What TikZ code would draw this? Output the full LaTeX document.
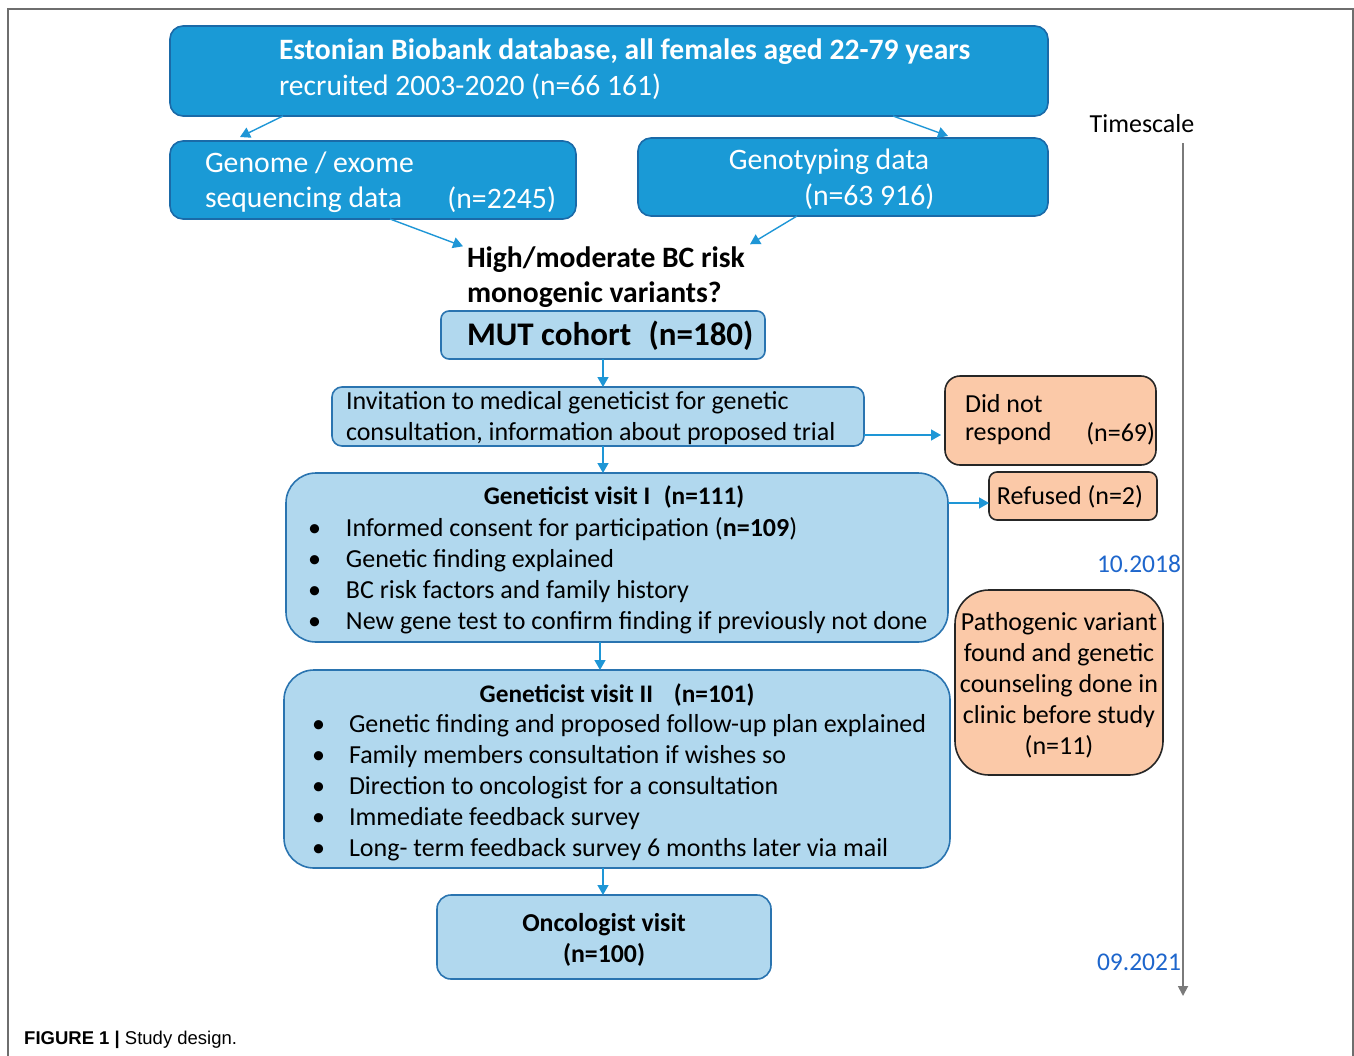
\documentclass[tikz,border=0pt]{standalone}
\usepackage{fontspec}
\setmainfont{Carlito}
\newfontfamily\capfont{Liberation Sans}
\usetikzlibrary{arrows.meta,calc}
\definecolor{topblue}{HTML}{1A9AD6}
\definecolor{darkedge}{HTML}{1A6AA8}
\definecolor{lightfill}{HTML}{B1D8EE}
\definecolor{lightedge}{HTML}{2A74B0}
\definecolor{peach}{HTML}{FBC9A8}
\definecolor{arrowblue}{HTML}{1E96D6}
\definecolor{dateblue}{HTML}{1E66CC}
\definecolor{framegray}{HTML}{6E6E6E}
\definecolor{timegray}{HTML}{7A7A7A}
\tikzset{
  x=1pt,y=-1pt,
  boxbase/.style={inner sep=0pt, outer sep=0pt, line width=1.6pt},
  darkbox/.style={boxbase, fill=topblue, draw=darkedge, rounded corners=13pt},
  lightbox/.style={boxbase, fill=lightfill, draw=lightedge, rounded corners=#1},
  lightbox/.default=10pt,
  peachbox/.style={boxbase, fill=peach, draw=black!85, rounded corners=#1},
  peachbox/.default=14pt,
  txt/.style={inner sep=0pt, outer sep=0pt, yshift=-1.8pt, font=\fontsize{26}{31}\selectfont},
  wtxt/.style={txt, text=white, font=\fontsize{29.7}{35}\selectfont},
  btitle/.style={txt, font=\bfseries\fontsize{25.3}{31}\selectfont},
  arr/.style={draw=arrowblue, line width=1.4pt, -{Triangle[length=10pt,width=11pt]}},
}
\begin{document}
\begin{tikzpicture}
\useasboundingbox (0,0) rectangle (1354,1055);
% frame
\draw[framegray, line width=2pt] (8,1056) -- (8,9) -- (1353,9) -- (1353,1056);

% boxes
\node[darkbox, minimum width=878pt, minimum height=90pt] (top) at (609,71) {};
\node[darkbox, minimum width=406pt, minimum height=78pt] (genome) at (373,180) {};
\node[darkbox, minimum width=410pt, minimum height=78pt] (geno) at (843,177) {};
\node[lightbox=8pt, minimum width=324pt, minimum height=48pt] (mut) at (603,335) {};
\node[lightbox=10pt, minimum width=532pt, minimum height=59pt] (inv) at (598,416.5) {};
\node[peachbox=15pt, minimum width=211pt, minimum height=89pt] (dnr) at (1050.5,420.5) {};
\node[lightbox=30pt, minimum width=662pt, minimum height=169pt] (v1) at (617,557.5) {};
\node[peachbox=8pt, minimum width=168pt, minimum height=48pt] (ref) at (1073,496) {};
\node[lightbox=30pt, minimum width=666pt, minimum height=198pt] (v2) at (617,769) {};
\node[peachbox=34pt, minimum width=208pt, minimum height=185pt] (path) at (1059,682.5) {};
\node[lightbox=14pt, minimum width=334pt, minimum height=84pt] (onc) at (604,937) {};

% texts
\node[wtxt, anchor=west, font=\bfseries\fontsize{29.6}{35}\selectfont] (t1) at (279,50) {Estonian Biobank database, all females aged 22-79 years};
\node[wtxt, anchor=west, font=\fontsize{29.6}{35}\selectfont] (t2) at (279,85) {recruited 2003-2020 (n=66 161)};
\node[wtxt, anchor=west, align=left] (g1) at (205,180.5) {Genome / exome\\sequencing data};
\node[wtxt, anchor=east] (g2) at (556,198) {(n=2245)};
\node[wtxt] (h1) at (829,160) {Genotyping data};
\node[wtxt, anchor=west] (h2) at (804,195) {(n=63 916)};
\node[txt, anchor=west, align=left, font=\bfseries\fontsize{29.6}{35}\selectfont] (q) at (467,275.5) {High/moderate BC risk\\monogenic variants?};
\node[txt, anchor=west, font=\bfseries\fontsize{33}{38}\selectfont] (mt) at (467,334) {MUT cohort\hspace{0.3em} (n=180)};
\node[txt, anchor=west, align=left] (it) at (346,416.5) {Invitation to medical geneticist for genetic\\consultation, information about proposed trial};
\node[txt, anchor=west] (d1) at (965,402) {Did not};
\node[txt, anchor=west] (d2) at (965,432) {respond};
\node[txt, anchor=east] (d3) at (1155,432) {(n=69)};
\node[txt] (rt) at (1070,495) {Refused (n=2)};
\node[btitle] (v1t) at (614,495) {Geneticist visit I\hspace{0.3em} (n=111)};
\node[txt, anchor=west, align=left] (v1b) at (308,573.5) {\makebox[38pt][l]{•}Informed consent for participation (\textbf{n=109})\\
\makebox[38pt][l]{•}Genetic finding explained\\
\makebox[38pt][l]{•}BC risk factors and family history\\
\makebox[38pt][l]{•}New gene test to confirm finding if previously not done};
\node[btitle] (v2t) at (617,693) {Geneticist visit II\hspace{0.6em} (n=101)};
\node[txt, anchor=west, align=left] (v2b) at (312,786) {\makebox[37pt][l]{•}Genetic finding and proposed follow-up plan explained\\
\makebox[37pt][l]{•}Family members consultation if wishes so\\
\makebox[37pt][l]{•}Direction to oncologist for a consultation\\
\makebox[37pt][l]{•}Immediate feedback survey\\
\makebox[37pt][l]{•}Long- term feedback survey 6 months later via mail};
\node[txt, align=center] (pt) at (1059,683) {Pathogenic variant\\found and genetic\\counseling done in\\clinic before study\\(n=11)};
\node[txt, align=center, font=\bfseries\fontsize{25.8}{31}\selectfont] (ot) at (604,938) {Oncologist visit\\(n=100)};

% timescale
\node[txt] (ts) at (1142,122) {Timescale};
\coordinate (tsa) at (1183,143);
\coordinate (tsb) at (1183,996);
\draw[timegray, line width=1.8pt, -{Triangle[length=10pt,width=10pt]}] (tsa) -- (tsb);
\node[txt, anchor=east, text=dateblue, font=\fontsize{25.5}{31}\selectfont] (d18) at (1181,562) {10.2018};
\node[txt, anchor=east, text=dateblue, font=\fontsize{25.5}{31}\selectfont] (d21) at (1181,961) {09.2021};

% connectors
\draw[arr] ([xshift=113pt]top.south west) -- ([xshift=70pt,yshift=4pt]genome.north west);
\draw[arr] ([xshift=723pt]top.south west) -- ([xshift=310pt,yshift=2pt]geno.north west);
\draw[arr] ([xshift=220pt]genome.south west) -- ([xshift=-4pt,yshift=31pt]q.west);
\draw[arr] ([xshift=159pt]geno.south west) -- ([xshift=283pt,yshift=33pt]q.west);
\draw[arr] (mut.south) -- (mut.south |- inv.north);
\draw[arr] (inv.east |- 0,435) -- ([xshift=-4pt]dnr.west |- 0,435);
\draw[arr] (inv.south -| mut.south) -- (v1.north -| mut.south);
\draw[arr] (v1.east |- 0,503) -- (ref.west |- 0,503);
\draw[arr] (v1.south -| 600,0) -- (v2.north -| 600,0);
\draw[arr] (v2.south -| mut.south) -- (onc.north -| mut.south);

% caption
\node[inner sep=0pt, anchor=west, font=\capfont\fontsize{18.5}{23}\selectfont] (cap) at (24,1040) {\textbf{FIGURE 1 |} Study design.};
\end{tikzpicture}
\end{document}
